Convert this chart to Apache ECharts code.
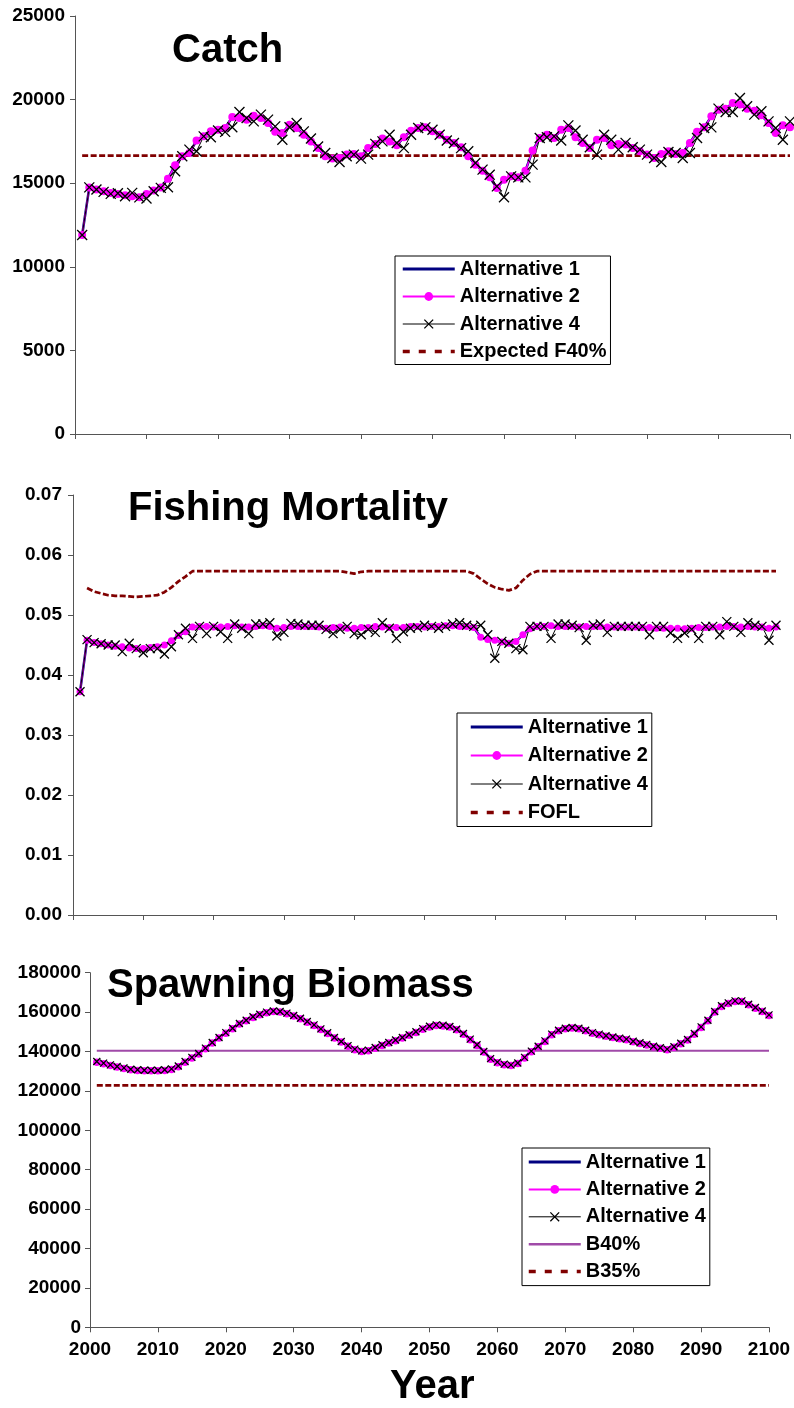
<!DOCTYPE html>
<html><head><meta charset="utf-8">
<script src="https://cdn.jsdelivr.net/npm/echarts/dist/echarts.min.js"></script>
<style>html,body{margin:0;padding:0;background:#fff}#c{width:794px;height:1408px}</style>
</head><body><div id="c"></div>
<script>
// ---------- DATA ----------
const years = [
 2001,2002,2003,2004,2005,2006,2007,2008,2009,2010,
 2011,2012,2013,2014,2015,2016,2017,2018,2019,2020,
 2021,2022,2023,2024,2025,2026,2027,2028,2029,2030,
 2031,2032,2033,2034,2035,2036,2037,2038,2039,2040,
 2041,2042,2043,2044,2045,2046,2047,2048,2049,2050,
 2051,2052,2053,2054,2055,2056,2057,2058,2059,2060,
 2061,2062,2063,2064,2065,2066,2067,2068,2069,2070,
 2071,2072,2073,2074,2075,2076,2077,2078,2079,2080,
 2081,2082,2083,2084,2085,2086,2087,2088,2089,2090,
 2091,2092,2093,2094,2095,2096,2097,2098,2099,2100];

const catchAlt1 = [
 11900,14750,14620,14520,14420,14360,14280,14220,14160,14360,
 14560,14750,15270,16070,16610,16810,17550,17810,18100,18200,
 18300,18960,18900,18800,19040,18900,18600,18070,18000,18500,
 18300,17900,17500,17100,16610,16470,16510,16710,16750,16610,
 17100,17350,17670,17500,17270,17750,18140,18300,18340,18100,
 17900,17600,17400,17150,16610,16110,15750,15350,14720,15210,
 15410,15350,15750,16950,17700,17900,17700,18200,18300,17750,
 17400,17100,17600,17700,17270,17350,17310,17100,16910,16710,
 16510,16750,16910,16750,16810,17410,18070,18340,19000,19400,
 19460,19800,19700,19460,19340,19060,18600,18000,18460,18340];
const catchAlt2 = [
 11900,14750,14620,14520,14420,14360,14280,14220,14160,14360,
 14560,14750,15270,16070,16610,16810,17550,17810,18100,18200,
 18300,18960,18900,18800,19040,18900,18600,18070,18000,18500,
 18300,17900,17500,17100,16610,16470,16510,16710,16750,16610,
 17100,17350,17670,17500,17270,17750,18140,18300,18340,18100,
 17900,17600,17400,17150,16610,16110,15750,15350,14720,15210,
 15410,15350,15750,16950,17700,17900,17700,18200,18300,17750,
 17400,17100,17600,17700,17270,17350,17310,17100,16910,16710,
 16510,16750,16910,16750,16810,17410,18070,18340,19000,19400,
 19460,19800,19700,19460,19340,19060,18600,18000,18460,18340];
const catchAlt4 = [
 11900,14750,14620,14480,14360,14400,14220,14420,14150,14080,
 14520,14720,14760,15710,16610,17010,16910,17800,17750,18150,
 18070,18350,19260,18900,18700,19100,18800,18400,17600,18350,
 18600,18100,17670,17200,16810,16510,16270,16610,16710,16470,
 16710,17350,17500,17900,17400,17100,17900,18300,18340,18200,
 17900,17550,17400,17100,16910,16210,15810,15510,14810,14160,
 15410,15350,15350,16110,17700,17750,17800,17550,18460,18150,
 17600,17150,16710,17900,17600,17010,17410,17150,17010,16710,
 16510,16270,16870,16810,16510,16810,17700,18300,18340,19460,
 19260,19260,20100,19600,19100,19300,18700,18300,17600,18700];
const catchF40 = 16650;

const fAlt1 = [
 0.0372,0.0458,0.0454,0.0452,0.0450,0.0448,0.0447,0.0445,0.0444,0.0444,
 0.0446,0.0447,0.0450,0.0457,0.0466,0.0472,0.0480,0.0481,0.0481,0.0480,
 0.0480,0.0481,0.0482,0.0480,0.0480,0.0481,0.0482,0.0481,0.0478,0.0479,
 0.0481,0.0481,0.0481,0.0481,0.0480,0.0478,0.0479,0.0480,0.0478,0.0478,
 0.0479,0.0479,0.0481,0.0480,0.0479,0.0479,0.0479,0.0481,0.0481,0.0480,
 0.0481,0.0481,0.0482,0.0482,0.0481,0.0481,0.0479,0.0463,0.0459,0.0458,
 0.0455,0.0453,0.0456,0.0467,0.0477,0.0481,0.0481,0.0482,0.0481,0.0481,
 0.0481,0.0480,0.0481,0.0481,0.0481,0.0480,0.0480,0.0480,0.0480,0.0480,
 0.0479,0.0479,0.0478,0.0478,0.0478,0.0478,0.0477,0.0478,0.0479,0.0479,
 0.0480,0.0480,0.0481,0.0481,0.0480,0.0481,0.0480,0.0480,0.0478,0.0480];
const fAlt2 = [
 0.0372,0.0458,0.0454,0.0452,0.0450,0.0448,0.0447,0.0445,0.0444,0.0444,
 0.0446,0.0447,0.0450,0.0457,0.0466,0.0472,0.0480,0.0481,0.0481,0.0480,
 0.0480,0.0481,0.0482,0.0480,0.0480,0.0481,0.0482,0.0481,0.0478,0.0479,
 0.0481,0.0481,0.0481,0.0481,0.0480,0.0478,0.0479,0.0480,0.0478,0.0478,
 0.0479,0.0479,0.0481,0.0480,0.0479,0.0479,0.0479,0.0481,0.0481,0.0480,
 0.0481,0.0481,0.0482,0.0482,0.0481,0.0481,0.0479,0.0463,0.0459,0.0458,
 0.0455,0.0453,0.0456,0.0467,0.0477,0.0481,0.0481,0.0482,0.0481,0.0481,
 0.0481,0.0480,0.0481,0.0481,0.0481,0.0480,0.0480,0.0480,0.0480,0.0480,
 0.0479,0.0479,0.0478,0.0478,0.0478,0.0478,0.0477,0.0478,0.0479,0.0479,
 0.0480,0.0480,0.0481,0.0481,0.0480,0.0481,0.0480,0.0480,0.0478,0.0480];
const fAlt4 = [
 0.0372,0.0459,0.0454,0.0452,0.0450,0.0450,0.0439,0.0453,0.0444,0.0437,
 0.0444,0.0444,0.0435,0.0447,0.0467,0.0478,0.0461,0.0481,0.0469,0.0481,
 0.0472,0.0461,0.0485,0.0478,0.0469,0.0485,0.0485,0.0487,0.0465,0.0471,
 0.0486,0.0485,0.0483,0.0483,0.0483,0.0476,0.0469,0.0476,0.0481,0.0469,
 0.0467,0.0476,0.0471,0.0487,0.0478,0.0461,0.0472,0.0478,0.0479,0.0483,
 0.0481,0.0478,0.0481,0.0485,0.0487,0.0483,0.0481,0.0483,0.0467,0.0428,
 0.0456,0.0453,0.0444,0.0442,0.0481,0.0481,0.0481,0.0461,0.0485,0.0485,
 0.0483,0.0479,0.0458,0.0483,0.0485,0.0471,0.0481,0.0481,0.0481,0.0481,
 0.0481,0.0467,0.0481,0.0481,0.0470,0.0461,0.0470,0.0476,0.0461,0.0481,
 0.0481,0.0467,0.0489,0.0481,0.0471,0.0487,0.0483,0.0481,0.0458,0.0483];
const fofl = [
 null,0.0545,0.0539,0.0536,0.0533,0.0532,0.0532,0.0531,0.0530,0.0531,
 0.0532,0.0533,0.0538,0.0546,0.0556,0.0564,0.0573,0.0573,0.0573,0.0573,
 0.0573,0.0573,0.0573,0.0573,0.0573,0.0573,0.0573,0.0573,0.0573,0.0573,
 0.0573,0.0573,0.0573,0.0573,0.0573,0.0573,0.0573,0.0573,0.0571,0.0569,
 0.0572,0.0573,0.0573,0.0573,0.0573,0.0573,0.0573,0.0573,0.0573,0.0573,
 0.0573,0.0573,0.0573,0.0573,0.0573,0.0573,0.0569,0.0560,0.0552,0.0546,
 0.0543,0.0541,0.0545,0.0558,0.0568,0.0573,0.0573,0.0573,0.0573,0.0573,
 0.0573,0.0573,0.0573,0.0573,0.0573,0.0573,0.0573,0.0573,0.0573,0.0573,
 0.0573,0.0573,0.0573,0.0573,0.0573,0.0573,0.0573,0.0573,0.0573,0.0573,
 0.0573,0.0573,0.0573,0.0573,0.0573,0.0573,0.0573,0.0573,0.0573,0.0573];

const bioAlt1 = [
 134900,134100,133200,132400,131700,131000,130700,130500,130500,130500,
 130700,131200,132600,134900,137000,139000,141700,144600,147100,149600,
 151800,154200,155900,157600,158900,160000,160600,160300,159500,158300,
 156900,155200,153500,151500,149500,147100,145100,143000,141200,140300,
 140700,142000,143400,144600,145800,147100,148500,150000,151600,152800,
 153500,153300,152700,151300,149100,146300,143400,140000,136400,134600,
 133600,133200,134200,137000,140200,142700,145400,148800,150800,151800,
 152200,151800,150800,149600,148800,148000,147400,146800,146300,145200,
 144400,143600,142700,141900,141200,142400,144200,146100,149100,152500,
 155900,160300,163200,164700,165700,165700,164000,162300,160600,158600];
const bioAlt2 = [
 134600,133800,132900,132100,131400,130700,130400,130200,130200,130200,
 130400,130900,132300,134600,136700,138700,141400,144300,146800,149300,
 151500,153900,155600,157300,158600,159700,160300,160000,159200,158000,
 156600,154900,153200,151200,149200,146800,144800,142700,140900,140000,
 140400,141700,143100,144300,145500,146800,148200,149700,151300,152500,
 153200,153000,152400,151000,148800,146000,143100,139700,136100,134300,
 133300,132900,133900,136700,139900,142400,145100,148500,150500,151500,
 151900,151500,150500,149300,148500,147700,147100,146500,146000,144900,
 144100,143300,142400,141600,140900,142100,143900,145800,148800,152200,
 155600,160000,162900,164400,165400,165400,163700,162000,160300,158300];
const bioAlt4 = [
 134900,134100,133200,132400,131700,131000,130700,130500,130500,130500,
 130700,131200,132600,134900,137000,139000,141700,144600,147100,149600,
 151800,154200,155900,157600,158900,160000,160600,160300,159500,158300,
 156900,155200,153500,151500,149500,147100,145100,143000,141200,140300,
 140700,142000,143400,144600,145800,147100,148500,150000,151600,152800,
 153500,153300,152700,151300,149100,146300,143400,140000,136400,134600,
 133600,133200,134200,137000,140200,142700,145400,148800,150800,151800,
 152200,151800,150800,149600,148800,148000,147400,146800,146300,145200,
 144400,143600,142700,141900,141200,142400,144200,146100,149100,152500,
 155900,160300,163200,164700,165700,165700,164000,162300,160600,158600];
const b40 = 140400;
const b35 = 122800;

const panelTitles = ['Catch', 'Fishing Mortality', 'Spawning Biomass'];
const xTitle = 'Year';
const seriesNames = ['Alternative 1', 'Alternative 2', 'Alternative 4'];

// ---------- STYLE ----------
const FONT = '"Liberation Sans", Arial, Helvetica, sans-serif';
const X_PATH = 'path://M0,0L10,10M10,0L0,10';
const AXC = '#555';
const NAVY = '#000080', MAG = '#ff00ff', DRED = '#800000', PURP = '#a04aa8';

function pairs(vals) { return years.map((y, i) => [y, vals[i]]); }
function flat(v) { return [[years[0], v], [years[years.length - 1], v]]; }

function xAx(idx, show) {
  return {type: 'value', gridIndex: idx, min: 2000, max: 2100, interval: 10,
    axisLine: {show: true, onZero: false, lineStyle: {color: AXC, width: 1}},
    axisTick: {show: true, length: 5, lineStyle: {color: AXC}},
    axisLabel: {show: show, fontSize: 19, fontWeight: 'bold', color: '#000', fontFamily: FONT, margin: 13,
      formatter: v => String(v)},
    splitLine: {show: false}};
}
function yAx(idx, max, interval, fmt, margin) {
  return {type: 'value', gridIndex: idx, min: 0, max: max, interval: interval,
    axisLine: {show: true, lineStyle: {color: AXC, width: 1}},
    axisTick: {show: true, length: 5, lineStyle: {color: AXC}},
    axisLabel: {fontSize: 19, fontWeight: 'bold', color: '#000', fontFamily: FONT, margin: margin, formatter: fmt},
    splitLine: {show: false}};
}
function altSeries(idx, a1, a2, a4, dot, cross) {
  return [
    {name: seriesNames[0], type: 'line', xAxisIndex: idx, yAxisIndex: idx, data: pairs(a1),
      symbol: 'none', lineStyle: {color: NAVY, width: 2.5}, itemStyle: {color: NAVY}, silent: true},
    {name: seriesNames[1], type: 'line', xAxisIndex: idx, yAxisIndex: idx, data: pairs(a2),
      symbol: 'circle', symbolSize: dot, showSymbol: true, lineStyle: {color: MAG, width: 1.5},
      itemStyle: {color: MAG}, silent: true},
    {name: seriesNames[2], type: 'line', xAxisIndex: idx, yAxisIndex: idx, data: pairs(a4),
      symbol: X_PATH, symbolSize: cross, showSymbol: true, lineStyle: {color: '#000', width: 1},
      itemStyle: {color: 'transparent', borderColor: '#000', borderWidth: 1.3}, silent: true}
  ];
}
function dashSeries(idx, name, data) {
  return {name: name, type: 'line', xAxisIndex: idx, yAxisIndex: idx, data: data, symbol: 'none',
    lineStyle: {color: DRED, width: 2.7, type: [6, 2.5]}, itemStyle: {color: DRED}, silent: true};
}

const lgAlt = [
  {name: seriesNames[0], itemStyle: {opacity: 0}, lineStyle: {color: NAVY, width: 3, type: 'solid'}},
  {name: seriesNames[1], itemStyle: {color: MAG, borderWidth: 0, opacity: 1}, lineStyle: {color: MAG, width: 2, type: 'solid'}},
  {name: seriesNames[2], itemStyle: {color: 'transparent', borderColor: '#000', borderWidth: 1.3, opacity: 1}, lineStyle: {color: '#000', width: 1, type: 'solid'}}
];
const lgDash = n => ({name: n, itemStyle: {opacity: 0}, lineStyle: {color: DRED, width: 3.5, type: [7, 9]}});
const lgText = {fontSize: 20, fontWeight: 'bold', color: '#000', fontFamily: FONT};
function legend(left, top, padding, gap, data) {
  return {left: left, top: top, orient: 'vertical', padding: padding, itemGap: gap, itemWidth: 52, itemHeight: 11,
    borderColor: '#000', borderWidth: 1, backgroundColor: '#fff', textStyle: lgText, selectedMode: false, data: data};
}
const titleStyle = {fontSize: 40, fontWeight: 'bold', color: '#000', fontFamily: FONT};

const option = {
  animation: false,
  backgroundColor: '#fff',
  title: [
    {text: panelTitles[0], left: 172, top: 31, padding: 0, textStyle: titleStyle},
    {text: panelTitles[1], left: 128, top: 489, padding: 0, textStyle: titleStyle},
    {text: panelTitles[2], left: 107, top: 966, padding: 0, textStyle: titleStyle},
    {text: xTitle, left: 390, top: 1367, padding: 0, textStyle: titleStyle}
  ],
  grid: [
    {left: 75, top: 16, width: 715, height: 418, outerBoundsMode: 'none'},
    {left: 73, top: 495, width: 703, height: 420, outerBoundsMode: 'none'},
    {left: 90, top: 972.7, width: 679, height: 354.6, outerBoundsMode: 'none'}
  ],
  xAxis: [xAx(0, false), xAx(1, false), xAx(2, true)],
  yAxis: [
    yAx(0, 25000, 5000, v => String(v), 10),
    yAx(1, 0.07, 0.01, v => v.toFixed(2), 11),
    yAx(2, 180000, 20000, v => String(v), 9)
  ],
  legend: [
    legend(395, 256, [3, 4, 3, 6], 7.5, lgAlt.concat([lgDash('Expected F40%')])),
    legend(457, 713, [4, 4, 4, 12], 8.5, lgAlt.concat([lgDash('FOFL')])),
    legend(522, 1148, [4, 4, 4, 5], 7.4, lgAlt.concat([
      {name: 'B40%', itemStyle: {opacity: 0}, lineStyle: {color: PURP, width: 2.5, type: 'solid'}},
      lgDash('B35%')]))
  ],
  series: [].concat(
    altSeries(0, catchAlt1, catchAlt2, catchAlt4, 8, 10),
    [dashSeries(0, 'Expected F40%', flat(catchF40))],
    altSeries(1, fAlt1, fAlt2, fAlt4, 7, 9),
    [dashSeries(1, 'FOFL', pairs(fofl))],
    altSeries(2, bioAlt1, bioAlt2, bioAlt4, 7.5, 7),
    [{name: 'B40%', type: 'line', xAxisIndex: 2, yAxisIndex: 2, data: flat(b40), symbol: 'none',
      lineStyle: {color: PURP, width: 2}, itemStyle: {color: PURP}, silent: true},
     dashSeries(2, 'B35%', flat(b35))]
  )
};
const chart = echarts.init(document.getElementById('c'), null, {renderer: 'canvas', width: 794, height: 1408});
chart.setOption(option);
</script></body></html>
